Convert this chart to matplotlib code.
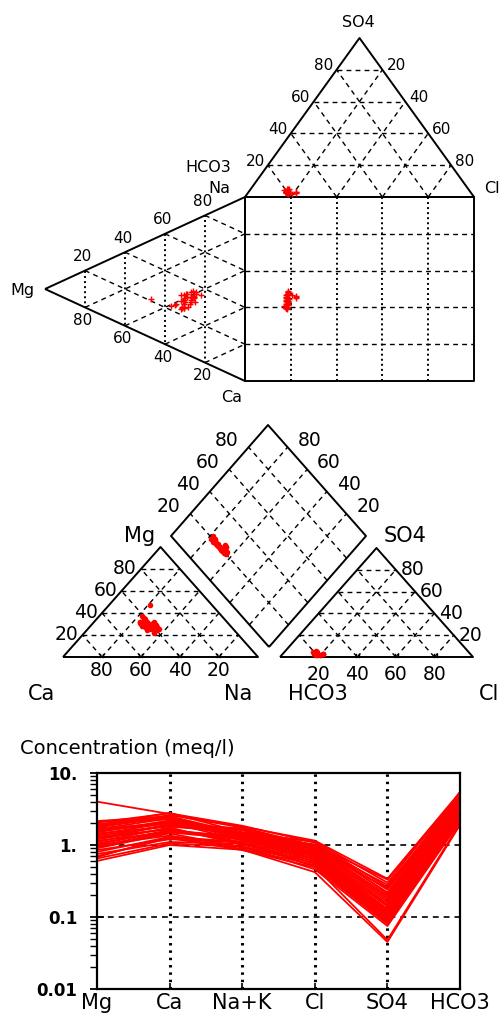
import matplotlib
import numpy as np

matplotlib.use("Agg")
import matplotlib.pyplot as plt

# sample concentrations, meq/l
mg = [4.0, 2.15, 2.05, 1.95, 1.85, 1.8, 1.7, 1.65, 1.6, 1.5, 1.45, 1.4, 1.35, 1.3, 1.25, 1.2, 1.15, 1.1,
      1.05, 1.0, 0.95, 0.9, 0.85, 0.8, 0.75, 0.7, 0.65, 0.6, 1.75, 1.55, 0.92, 1.9, 0.68, 1.22, 1.02, 2.1]
ca = [2.7, 2.5, 2.75, 2.3, 2.6, 2.5, 2.0, 2.35, 2.1, 2.2, 1.8, 2.05, 1.85, 1.65, 1.95, 1.7, 1.5, 1.75,
      1.6, 1.35, 1.55, 1.45, 1.2, 1.3, 1.1, 1.25, 1.05, 1.0, 2.45, 2.0, 1.5, 2.8, 1.3, 1.9, 1.6, 2.3]
nak = [1.8, 1.45, 1.85, 1.4, 1.75, 1.3, 1.65, 1.25, 1.6, 1.2, 1.5, 1.15, 1.45, 1.1, 1.4, 1.05, 1.3, 1.0,
       1.25, 0.95, 1.2, 0.92, 1.1, 0.88, 1.05, 0.85, 0.95, 0.86, 1.35, 1.7, 1.2, 1.5, 1.1, 1.45, 1.3, 1.25]
cl = [1.15, 1.12, 1.08, 1.02, 0.98, 0.95, 0.92, 0.88, 0.86, 0.82, 0.8, 0.78, 0.75, 0.73, 0.71, 0.69, 0.67, 0.65,
      0.63, 0.61, 0.59, 0.57, 0.55, 0.53, 0.51, 0.49, 0.46, 0.42, 1.0, 0.95, 0.7, 1.1, 0.5, 0.85, 0.75, 0.9]
so4 = [0.34, 0.3, 0.26, 0.24, 0.22, 0.2, 0.19, 0.18, 0.17, 0.16, 0.15, 0.145, 0.14, 0.13, 0.125, 0.12, 0.115, 0.11,
       0.105, 0.1, 0.095, 0.09, 0.088, 0.085, 0.082, 0.08, 0.075, 0.045, 0.33, 0.28, 0.1, 0.21, 0.048, 0.12, 0.1, 0.25]
hco3 = [5.4, 5.3, 5.1, 4.9, 4.7, 4.6, 4.4, 4.3, 4.2, 4.0, 3.9, 3.8, 3.65, 3.55, 3.45, 3.35, 3.2, 3.1,
        3.0, 2.9, 2.8, 2.65, 2.55, 2.45, 2.35, 2.25, 2.1, 1.9, 5.0, 4.6, 2.6, 5.5, 2.0, 3.1, 2.75, 4.8]

ions = ["Mg", "Ca", "Na+K", "Cl", "SO4", "HCO3"]
grid_pct = [20, 40, 60, 80]

RED = "#ff0000"
DASH = dict(color="black", lw=1.0, ls=(0, (3.5, 3)))
DOT = dict(color="black", lw=1.4, ls=(0, (1, 1.6)))
EDGE = dict(color="black", lw=1.4, solid_capstyle="butt")
FONT = "DejaVu Sans"

W, H = 501, 1015
fig = plt.figure(figsize=(W / 100, H / 100), dpi=100)
ax = fig.add_axes([0, 0, 1, 1])
ax.set_xlim(0, W)
ax.set_ylim(H, 0)
ax.axis("off")

# fractions
cat = np.array([mg, ca, nak], dtype=float)
f_mg, f_ca, f_na = cat / cat.sum(axis=0)
an = np.array([cl, so4, hco3], dtype=float)
f_cl, f_so4, f_hco3 = an / an.sum(axis=0)


def bary(weights, verts):
    return sum(np.outer(w, v) for w, v in zip(weights, verts))


def tri_outline(v):
    xs = [p[0] for p in v] + [v[0][0]]
    ys = [p[1] for p in v] + [v[0][1]]
    ax.plot(xs, ys, **EDGE)


def tri_grid(v, styles):
    v = [np.array(p, float) for p in v]
    for i in range(3):
        j, k = [n for n in range(3) if n != i]
        for pct in grid_pct:
            f = pct / 100
            a = f * v[i] + (1 - f) * v[j]
            b = f * v[i] + (1 - f) * v[k]
            ax.plot([a[0], b[0]], [a[1], b[1]], **styles[i])


def txt(x, y, s, size=11, ha="center", va="center"):
    ax.text(x, y, s, fontsize=size, ha=ha, va=va, family=FONT)


# ---------------- Durov ----------------
d_hco3, d_cl, d_so4 = (245, 197), (474, 197), (359.5, 38)
d_mg, d_na, d_ca = (45, 289), (245, 197), (245, 381)
sq_x0, sq_x1, sq_y0, sq_y1 = 245, 474, 197, 381

tri_grid([d_hco3, d_cl, d_so4], [DASH, DASH, DASH])
tri_grid([d_mg, d_na, d_ca], [DOT, DASH, DASH])
for pct in grid_pct:
    x = sq_x0 + pct / 100 * (sq_x1 - sq_x0)
    ax.plot([x, x], [sq_y0, sq_y1], **DOT)
    y = sq_y0 + pct / 100 * (sq_y1 - sq_y0)
    ax.plot([sq_x0, sq_x1], [y, y], **DASH)
tri_outline([d_hco3, d_cl, d_so4])
tri_outline([d_mg, d_na, d_ca])
ax.plot([sq_x0, sq_x1, sq_x1, sq_x0, sq_x0], [sq_y0, sq_y0, sq_y1, sq_y1, sq_y0], **EDGE)

pa = bary([f_hco3, f_cl, f_so4], [d_hco3, d_cl, d_so4])
pc = bary([f_mg, f_na, f_ca], [d_mg, d_na, d_ca])
sq_x = sq_x0 + (f_cl + f_so4 / 2) * (sq_x1 - sq_x0)
sq_y = sq_y0 + (f_ca + f_mg / 2) * (sq_y1 - sq_y0)
mk = dict(marker="+", ms=4, mew=1.0, color=RED, ls="none")
ax.plot(pa[:, 0], pa[:, 1], **mk)
ax.plot(pc[:, 0], pc[:, 1], **mk)
ax.plot(sq_x, sq_y, **mk)

txt(358, 22, "SO4", 11.5)
txt(208, 167, "HCO3", 11.5)
txt(219, 188, "Na", 11.5)
txt(492, 188, "Cl", 11.5)
txt(22, 290, "Mg", 11.5)
txt(232, 398, "Ca", 11.5)
for pct in grid_pct:
    f = pct / 100
    # left edge of SO4 triangle (SO4 %)
    x = d_hco3[0] + f * (d_so4[0] - d_hco3[0])
    y = d_hco3[1] + f * (d_so4[1] - d_hco3[1])
    txt(x - 3, y - 4, str(pct), ha="right")
    # right edge (Cl %)
    x = d_so4[0] + f * (d_cl[0] - d_so4[0])
    y = d_so4[1] + f * (d_cl[1] - d_so4[1])
    txt(x + 4, y - 4, str(pct), ha="left")
    # cation triangle, upper edge (Na %)
    x = d_mg[0] + f * (d_na[0] - d_mg[0])
    y = d_mg[1] + f * (d_na[1] - d_mg[1])
    txt(x - 2, y - 14, str(pct))
    # lower edge (Mg %)
    x = d_mg[0] + (1 - f) * (d_ca[0] - d_mg[0])
    y = d_mg[1] + (1 - f) * (d_ca[1] - d_mg[1])
    txt(x - 2, y + 13, str(pct))

# ---------------- Piper ----------------
p_ca, p_na, p_mg = (63, 657), (258, 657), (160.5, 547)
p_hco3, p_cl, p_so4 = (280, 657), (473, 657), (376.5, 548)
dB = np.array([269.0, 647.0])
dL = np.array([171.0, 536.0]) - dB
dR = np.array([366.0, 536.0]) - dB

tri_grid([p_ca, p_na, p_mg], [DASH, DASH, DASH])
tri_grid([p_hco3, p_cl, p_so4], [DASH, DASH, DASH])
for pct in grid_pct:
    f = pct / 100
    a, b = dB + f * dL, dB + f * dL + dR
    ax.plot([a[0], b[0]], [a[1], b[1]], **DASH)
    a, b = dB + f * dR, dB + f * dR + dL
    ax.plot([a[0], b[0]], [a[1], b[1]], **DASH)
    for x0 in (p_ca[0], p_hco3[0]):
        x = x0 + f * 195
        ax.plot([x - 1.5, x - 1.5], [657, 654], color="black", lw=1)
        ax.plot([x + 1.5, x + 1.5], [657, 654], color="black", lw=1)
tri_outline([p_ca, p_na, p_mg])
tri_outline([p_hco3, p_cl, p_so4])
dia = np.array([dB, dB + dL, dB + dL + dR, dB + dR, dB])
ax.plot(dia[:, 0], dia[:, 1], **EDGE)

qc = bary([f_ca, f_na, f_mg], [p_ca, p_na, p_mg])
qa = bary([f_hco3, f_cl, f_so4], [p_hco3, p_cl, p_so4])
qd = dB + np.outer(f_ca + f_mg, dL) + np.outer(f_cl + f_so4, dR)
mk2 = dict(marker="o", ms=4, mew=0, color=RED, ls="none")
ax.plot(qc[:, 0], qc[:, 1], **mk2)
ax.plot(qa[:, 0], qa[:, 1], **mk2)
ax.plot(qd[:, 0], qd[:, 1], **mk2)

PS = 13.5
txt(140, 536, "Mg", 15)
txt(405, 536, "SO4", 15)
txt(42, 694, "Ca", 15)
txt(238, 694, "Na", 15)
txt(318, 694, "HCO3", 15)
txt(489, 694, "Cl", 15)
for pct in grid_pct:
    f = pct / 100
    # cation triangle left edge (Mg %)
    x = p_ca[0] + f * (p_mg[0] - p_ca[0])
    y = p_ca[1] + f * (p_mg[1] - p_ca[1])
    txt(x - 4, y, str(pct), PS, ha="right")
    # cation base (Ca %)
    txt(p_ca[0] + (1 - f) * 195, 671, str(pct), PS)
    # anion triangle right edge (SO4 %)
    x = p_cl[0] + f * (p_so4[0] - p_cl[0])
    y = p_cl[1] + f * (p_so4[1] - p_cl[1])
    txt(x + 5, y, str(pct), PS, ha="left")
    # anion base (Cl %)
    txt(p_hco3[0] + f * 193, 674, str(pct), PS)
    # diamond upper edges
    a = dB + dL + f * dR
    txt(a[0] - 10, a[1] - 7, str(pct), PS, ha="right")
    b = dB + dR + f * dL
    txt(b[0] + 10, b[1] - 7, str(pct), PS, ha="left")

# ---------------- Schoeller ----------------
sx0, sx1, sy0, sy1 = 97, 460, 773, 989
sax = fig.add_axes([sx0 / W, 1 - sy1 / H, (sx1 - sx0) / W, (sy1 - sy0) / H])
sax.set_yscale("log")
xs = np.arange(len(ions))
for row in zip(mg, ca, nak, cl, so4, hco3):
    sax.plot(xs, row, color=RED, lw=1.3)
for x in xs[1:-1]:
    sax.axvline(x, color="black", lw=2.2, ls=(0, (0.8, 1.6)), zorder=0)
for y in (0.1, 1):
    sax.axhline(y, color="black", lw=1.2, ls=(0, (3.5, 3)), zorder=0)
sax.set_xlim(0, 5)
sax.set_ylim(0.01, 10)
sax.set_yticks([0.01, 0.1, 1, 10])
sax.set_yticklabels(["0.01", "0.1", "1.", "10."], fontsize=12, fontweight="bold", family=FONT)
sax.set_xticks(xs)
sax.set_xticklabels(ions, fontsize=15, family=FONT)
sax.tick_params(axis="y", which="major", direction="inout", length=10, width=1.3, pad=9)
sax.tick_params(axis="y", which="minor", direction="out", length=5, width=1.0)
sax.tick_params(axis="x", direction="in", length=4, width=1.2, pad=3)
for s in sax.spines.values():
    s.set_linewidth(1.6)
fig.text(20 / W, 1 - 749 / H, "Concentration (meq/l)", fontsize=14, family=FONT, va="center")

fig.savefig("out.png", dpi=100)
